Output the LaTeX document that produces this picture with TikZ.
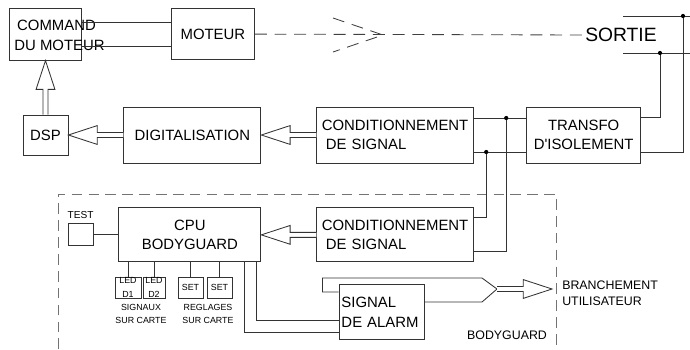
\documentclass[tikz,border=0pt]{standalone}
\usepackage{fontspec}
\setmainfont{Liberation Sans}
\usepackage{tikz}
\usetikzlibrary{positioning,calc}

% hollow block arrow from #1 (tail) to #2 (tip)
\newcommand{\blockarrow}[2]{%
  \coordinate (ab) at ($(#2)!20.5pt!(#1)$);
  \draw[hollow] ($(#1)!1.8pt!90:(#2)$) -- ($(ab)!1.8pt!90:(#2)$) -- ($(ab)!6.7pt!90:(#2)$) -- (#2)
    -- ($(ab)!6.7pt!-90:(#2)$) -- ($(ab)!1.8pt!-90:(#2)$) -- ($(#1)!1.8pt!-90:(#2)$);
}

\begin{document}
\begin{tikzpicture}[x=0.025cm, y=-0.025cm,
    box/.style={rectangle, draw=black!80, line width=0.6pt, align=center, inner sep=0pt, font=\fontsize{10.6}{14}\selectfont},
    lbox/.style={box, align=left, inner xsep=0.125cm},
    ledbox/.style={rectangle, draw=black!80, line width=0.6pt, align=center, inner sep=0pt, minimum height=0.525cm, font=\fontsize{6.3}{10}\selectfont},
    note/.style={align=center, inner sep=0pt, font=\fontsize{6.3}{9}\selectfont},
    tag/.style={align=left, inner sep=0pt, font=\fontsize{8.8}{11.3}\selectfont},
    wire/.style={draw=black!80, line width=0.6pt},
    hollow/.style={draw=black!80, fill=white, line width=0.6pt},
    mech/.style={draw=black!75, line width=0.6pt, dash pattern=on 8.5pt off 5.5pt},
    zone/.style={draw=black!55, line width=0.7pt, dash pattern=on 7.5pt off 4.5pt}]

    \useasboundingbox (0,0) rectangle (690,349);

    % middle row
    \node [box, minimum width=1.125cm, minimum height=1cm] (dsp) at (45.5,135) {DSP};
    \node [box, minimum width=3.425cm, minimum height=1.4cm, right=1.375cm of dsp] (dig) {DIGITALISATION};
    \node [lbox, text width=3.675cm, minimum height=1.4cm, right=1.375cm of dig] (cond1) {CONDITIONNEMENT\\\hspace*{3pt}DE SIGNAL};
    \node [box, minimum width=2.85cm, minimum height=1.4cm, right=1.3cm of cond1] (tra) {TRANSFO\\D\textquotesingle ISOLEMENT};

    % top row
    \node [box, minimum width=1.8cm, minimum height=1.3cm, above=1.35cm of dsp] (cmd) {};
    \node [anchor=west, align=left, inner sep=0pt, font=\fontsize{10.6}{14}\selectfont] (cmdtxt) at ($(cmd.west)+(5,1)$) {\hspace*{2pt}COMMAND\\DU MOTEUR};
    \node [box, minimum width=2.075cm, minimum height=1.275cm, right=2.225cm of cmd] (mot) {MOTEUR};
    \node [inner sep=0pt, font=\fontsize{13.7}{16}\selectfont] (sortie) at (621,35) {SORTIE};

    % bodyguard
    \draw [zone] (58,349) -- (58,194) -- (556,194) -- (556,349);
    \node [lbox, text width=3.675cm, minimum height=1.35cm, below=1.1cm of cond1] (cond2) {CONDITIONNEMENT\\\hspace*{3pt}DE SIGNAL};
    \node [box, minimum width=3.55cm, minimum height=1.35cm, left=1.375cm of cond2] (cpu) {CPU\\BODYGUARD};
    \node [box, minimum width=0.625cm, minimum height=0.55cm, left=0.625cm of cpu] (test) {};
    \node [note, font=\fontsize{7.2}{9}\selectfont, above=0.11cm of test] (testtxt) {TEST};
    \node [ledbox, minimum width=0.65cm] (led1) at (128,287.5) {LED\\D1};
    \node [ledbox, minimum width=0.55cm] (led2) at (154,287.5) {LED\\D2};
    \node [ledbox, minimum width=0.625cm] (set1) at (190.5,287.5) {SET};
    \node [ledbox, minimum width=0.625cm] (set2) at (219.5,287.5) {SET};
    \node [note] (signaux) at (141,314) {SIGNAUX\\SUR CARTE};
    \node [note] (reglages) at (208,314) {REGLAGES\\SUR CARTE};
    \node [lbox, text width=2cm, inner xsep=0.0625cm, minimum height=1.375cm] (alarm) at (381.5,312) {SIGNAL\\DE ALARM};
    \node [tag, anchor=west] (user) at (562,293) {BRANCHEMENT\\UTILISATEUR};
    \node [tag] (bg) at (507,335) {BODYGUARD};

    \coordinate (chev) at (383,35);
    \coordinate (o1a) at (623,16);
    \coordinate (o1b) at (690,16);
    \coordinate (o2a) at (623,53);
    \coordinate (o2b) at (690,53);
    \coordinate (d1) at (683,16);
    \coordinate (d2) at (660,53);
    \coordinate (j1) at ($(cond1.east)+(32,-17)$);
    \coordinate (j2) at ($(cond1.east)+(12,17)$);
    \coordinate (join) at (497,289);
    \coordinate (bu) at (552,289);
    \coordinate (up) at (dsp.north |- cmd.south);

    % motor side
    \draw [wire] ($(cmd.east)+(0,-12)$) -- ($(mot.west)+(0,-12)$);
    \draw [wire] ($(cmd.east)+(0,12)$) -- ($(mot.west)+(0,12)$);
    \draw [mech] (mot.east) -- (sortie.west);
    \draw [mech] ($(chev)+(-50,-17)$) -- (chev) -- ($(chev)+(-50,17)$);

    % output lines
    \draw [wire] (o1a) -- (o1b);
    \draw [wire] (o2a) -- (o2b);
    \draw [wire] (d2) |- ($(tra.east)+(0,-18)$);
    \draw [wire] (d1) |- ($(tra.east)+(0,17)$);
    \draw [wire] ($(cond1.east)+(0,-17)$) -- ($(tra.west)+(0,-17)$);
    \draw [wire] ($(cond1.east)+(0,17)$) -- ($(tra.west)+(0,17)$);
    \draw [wire] (j2) |- ($(cond2.east)+(0,-17)$);
    \draw [wire] (j1) |- ($(cond2.east)+(0,17)$);
    \foreach \p in {d1,d2,j1,j2}
        \fill [black] (\p) circle (1.5pt);

    % cpu side
    \draw [wire] (test.east) -- (test.east -| cpu.west);
    \foreach \b in {led1,led2,set1,set2}
        \draw [wire] (\b.north) -- (\b.north |- cpu.south);
    \draw [wire] ($(cpu.south east)+(-5,0)$) |- ($(alarm.west)+(0,8)$);
    \draw [wire] ($(cpu.south east)+(-17,0)$) |- ($(alarm.west)+(0,20)$);
    \draw [wire] ($(alarm.west)+(0,-20)$) -| ($(alarm.west)+(-16,-34)$) -- ($(join)+(-15,-11)$) -- (join);
    \draw [wire] ($(alarm.east)+(0,-10)$) -- ($(join)+(-15,13)$) -- (join);

    % block arrows
    \blockarrow{dig.west}{dsp.east}
    \blockarrow{cond1.west}{dig.east}
    \blockarrow{cond2.west}{cpu.east}
    \blockarrow{dsp.north}{up}
    \blockarrow{join}{bu}
\end{tikzpicture}
\end{document}
